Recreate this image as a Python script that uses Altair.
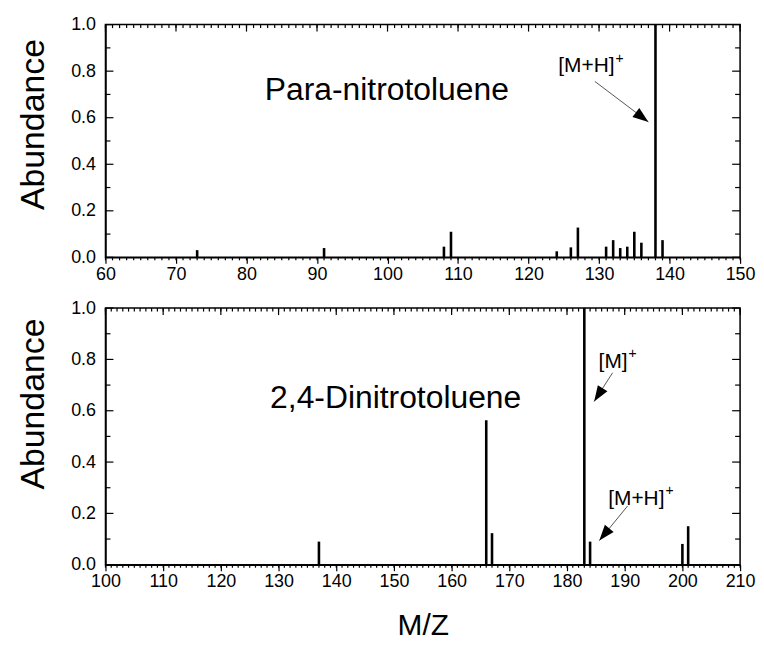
import math
import altair as alt
import pandas as pd

# ---------------- data ----------------
# Para-nitrotoluene spectrum
pnt_mz = [73, 91, 108, 109, 124, 126, 127, 131, 132, 133, 134, 135, 136, 138, 139]
pnt_ab = [0.031, 0.040, 0.046, 0.110, 0.026, 0.043, 0.128, 0.046, 0.074, 0.040,
          0.046, 0.110, 0.063, 1.0, 0.074]

# 2,4-Dinitrotoluene spectrum
dnt_mz = [137, 166, 167, 183, 184, 200, 201]
dnt_ab = [0.090, 0.563, 0.123, 1.0, 0.090, 0.081, 0.150]

# axes
top_x_domain = [60, 150]
bot_x_domain = [100, 210]
top_x_major = list(range(60, 151, 10))
top_x_minor = list(range(60, 151, 1))
bot_x_major = list(range(100, 211, 10))
bot_x_minor = list(range(100, 211, 1))
y_major = [0.0, 0.2, 0.4, 0.6, 0.8, 1.0]
y_minor = [0.1, 0.3, 0.5, 0.7, 0.9]

# annotations (label anchor = right edge of the main text)
top_name = "Para-nitrotoluene"
top_name_xy = (99.9, 0.72)
top_labels = ["[M+H]"]
top_labels_x = [132.2]
top_labels_y = [0.82]
top_arrow_from = [(129.4, 0.756)]
top_arrow_to = [(137.0, 0.582)]

bot_name = "2,4-Dinitrotoluene"
bot_name_xy = (150.3, 0.65)
bot_labels = ["[M]", "[M+H]"]
bot_labels_x = [190.5, 196.9]
bot_labels_y = [0.79, 0.256]
bot_arrow_from = [(187.9, 0.748), (190.5, 0.229)]
bot_arrow_to = [(184.7, 0.636), (185.6, 0.094)]
superscript = "+"

FONT = "Liberation Sans"
ARROW_PATH = "M0,0 L-0.36,1 L0.36,1 Z"


def panel(mz, ab, xdom, xmaj, xmin, W, H, xtitle, title_y, name, name_xy,
          labels, labels_x, labels_y, arr_from, arr_to):
    df = pd.DataFrame({"mz": mz, "ab": ab})
    xs = alt.Scale(domain=xdom, nice=False, zero=False)
    ys = alt.Scale(domain=[0, 1], nice=False, zero=False)

    def X(field, axis=alt.Undefined):
        return alt.X(field, type="quantitative", scale=xs, axis=axis)

    def Y(field, axis=alt.Undefined):
        return alt.Y(field, type="quantitative", scale=ys, axis=axis)

    bottom_kwargs = dict(orient="bottom", values=xmaj, tickSize=6, tickColor="black",
                         tickWidth=1.2, labelFontSize=18, labelPadding=2,
                         labelColor="black", format="d", grid=False,
                         domainColor="black", domainWidth=1.5, labelFlush=False)
    if xtitle:
        bottom_kwargs.update(title=xtitle, titleFontSize=30, titleFontWeight="normal",
                             titleColor="black", titlePadding=20)
    else:
        bottom_kwargs.update(title=None)

    bars = alt.Chart(df).mark_rule(color="black", strokeWidth=2.6).encode(
        x=X("mz", alt.Axis(**bottom_kwargs)),
        y=Y("ab", alt.Axis(orient="left", values=y_major, ticks=False, format=".1f",
                           labelFontSize=18, labelPadding=10, labelColor="black",
                           grid=False, domainColor="black", domainWidth=1.5,
                           title="Abundance", titleFontSize=34,
                           titleFontWeight="normal", titleColor="black",
                           titlePadding=20, titleY=title_y, labelFlush=False)),
        y2=alt.datum(0),
    )

    # inward / minor ticks as short rules (pixel lengths converted to data units)
    xr = xdom[1] - xdom[0]
    px_x = xr / W
    px_y = 1.0 / H

    vx, vy1, vy2 = [], [], []
    for v in xmin:                      # bottom minor, outward
        vx.append(v); vy1.append(0.0); vy2.append(-3 * px_y)
    for v in xmaj:                      # top major, inward
        vx.append(v); vy1.append(1.0); vy2.append(1.0 - 7 * px_y)
    for v in xmin:                      # top minor, inward
        vx.append(v); vy1.append(1.0); vy2.append(1.0 - 3.5 * px_y)
    vt_df = pd.DataFrame({"tx": vx, "ty1": vy1, "ty2": vy2})

    hy, hx1, hx2 = [], [], []
    for v in y_major:
        hy += [v, v]; hx1 += [xdom[0], xdom[1] - 8 * px_x]; hx2 += [xdom[0] + 8 * px_x, xdom[1]]
    for v in y_minor:
        hy += [v, v]; hx1 += [xdom[0], xdom[1] - 5 * px_x]; hx2 += [xdom[0] + 5 * px_x, xdom[1]]
    ht_df = pd.DataFrame({"hy": hy, "hx1": hx1, "hx2": hx2})

    vticks = alt.Chart(vt_df).mark_rule(color="black", strokeWidth=1.2).encode(
        x=X("tx"), y=Y("ty1"), y2="ty2:Q")
    hticks = alt.Chart(ht_df).mark_rule(color="black", strokeWidth=1.2).encode(
        y=Y("hy"), x=X("hx1"), x2="hx2:Q")

    name_df = pd.DataFrame({"x": [name_xy[0]], "y": [name_xy[1]], "t": [name]})
    name_layer = alt.Chart(name_df).mark_text(
        font=FONT, fontSize=32, color="black", align="center", baseline="middle"
    ).encode(x=X("x"), y=Y("y"), text="t:N")

    lab_df = pd.DataFrame({"x": labels_x, "y": labels_y, "t": labels,
                           "s": [superscript] * len(labels)})
    lab_layer = alt.Chart(lab_df).mark_text(
        font=FONT, fontSize=21, color="black", align="right", baseline="middle"
    ).encode(x=X("x"), y=Y("y"), text="t:N")
    sup_layer = alt.Chart(lab_df).mark_text(
        font=FONT, fontSize=14, color="black", align="left", baseline="middle",
        dx=1, dy=-8
    ).encode(x=X("x"), y=Y("y"), text="s:N")

    angs = []
    for (x1, y1), (x2, y2) in zip(arr_from, arr_to):
        dx = (x2 - x1) * W / xr
        dy = -(y2 - y1) * H
        angs.append(math.degrees(math.atan2(dx, -dy)) % 360)
    arr_df = pd.DataFrame({
        "x1": [a[0] for a in arr_from], "y1": [a[1] for a in arr_from],
        "x2": [a[0] for a in arr_to], "y2": [a[1] for a in arr_to],
        "ang": angs,
    })
    arr_line = alt.Chart(arr_df).mark_rule(color="#555555", strokeWidth=1).encode(
        x=X("x1"), y=Y("y1"), x2="x2:Q", y2="y2:Q")
    arr_head = alt.Chart(arr_df).mark_point(
        shape=ARROW_PATH, filled=True, size=1000, color="black", opacity=1, strokeWidth=0
    ).encode(x=X("x2"), y=Y("y2"), angle=alt.Angle("ang:Q", scale=None))

    return alt.layer(bars, name_layer, lab_layer, sup_layer,
                     arr_line, arr_head, vticks, hticks).properties(width=W, height=H)


top = panel(pnt_mz, pnt_ab, top_x_domain, top_x_major, top_x_minor, 638, 234, None, 100,
            top_name, top_name_xy, top_labels, top_labels_x, top_labels_y,
            top_arrow_from, top_arrow_to)
bot = panel(dnt_mz, dnt_ab, bot_x_domain, bot_x_major, bot_x_minor, 638, 258, "M/Z", 96,
            bot_name, bot_name_xy, bot_labels, bot_labels_x, bot_labels_y,
            bot_arrow_from, bot_arrow_to)

chart = alt.vconcat(top, bot, spacing=14).properties(
    padding={"left": 8, "top": 5, "right": 0, "bottom": 0}
).configure(font=FONT).configure_view(stroke="black", strokeWidth=1.5)

chart.save("out.html", embed_options={"renderer": "svg", "actions": False})
